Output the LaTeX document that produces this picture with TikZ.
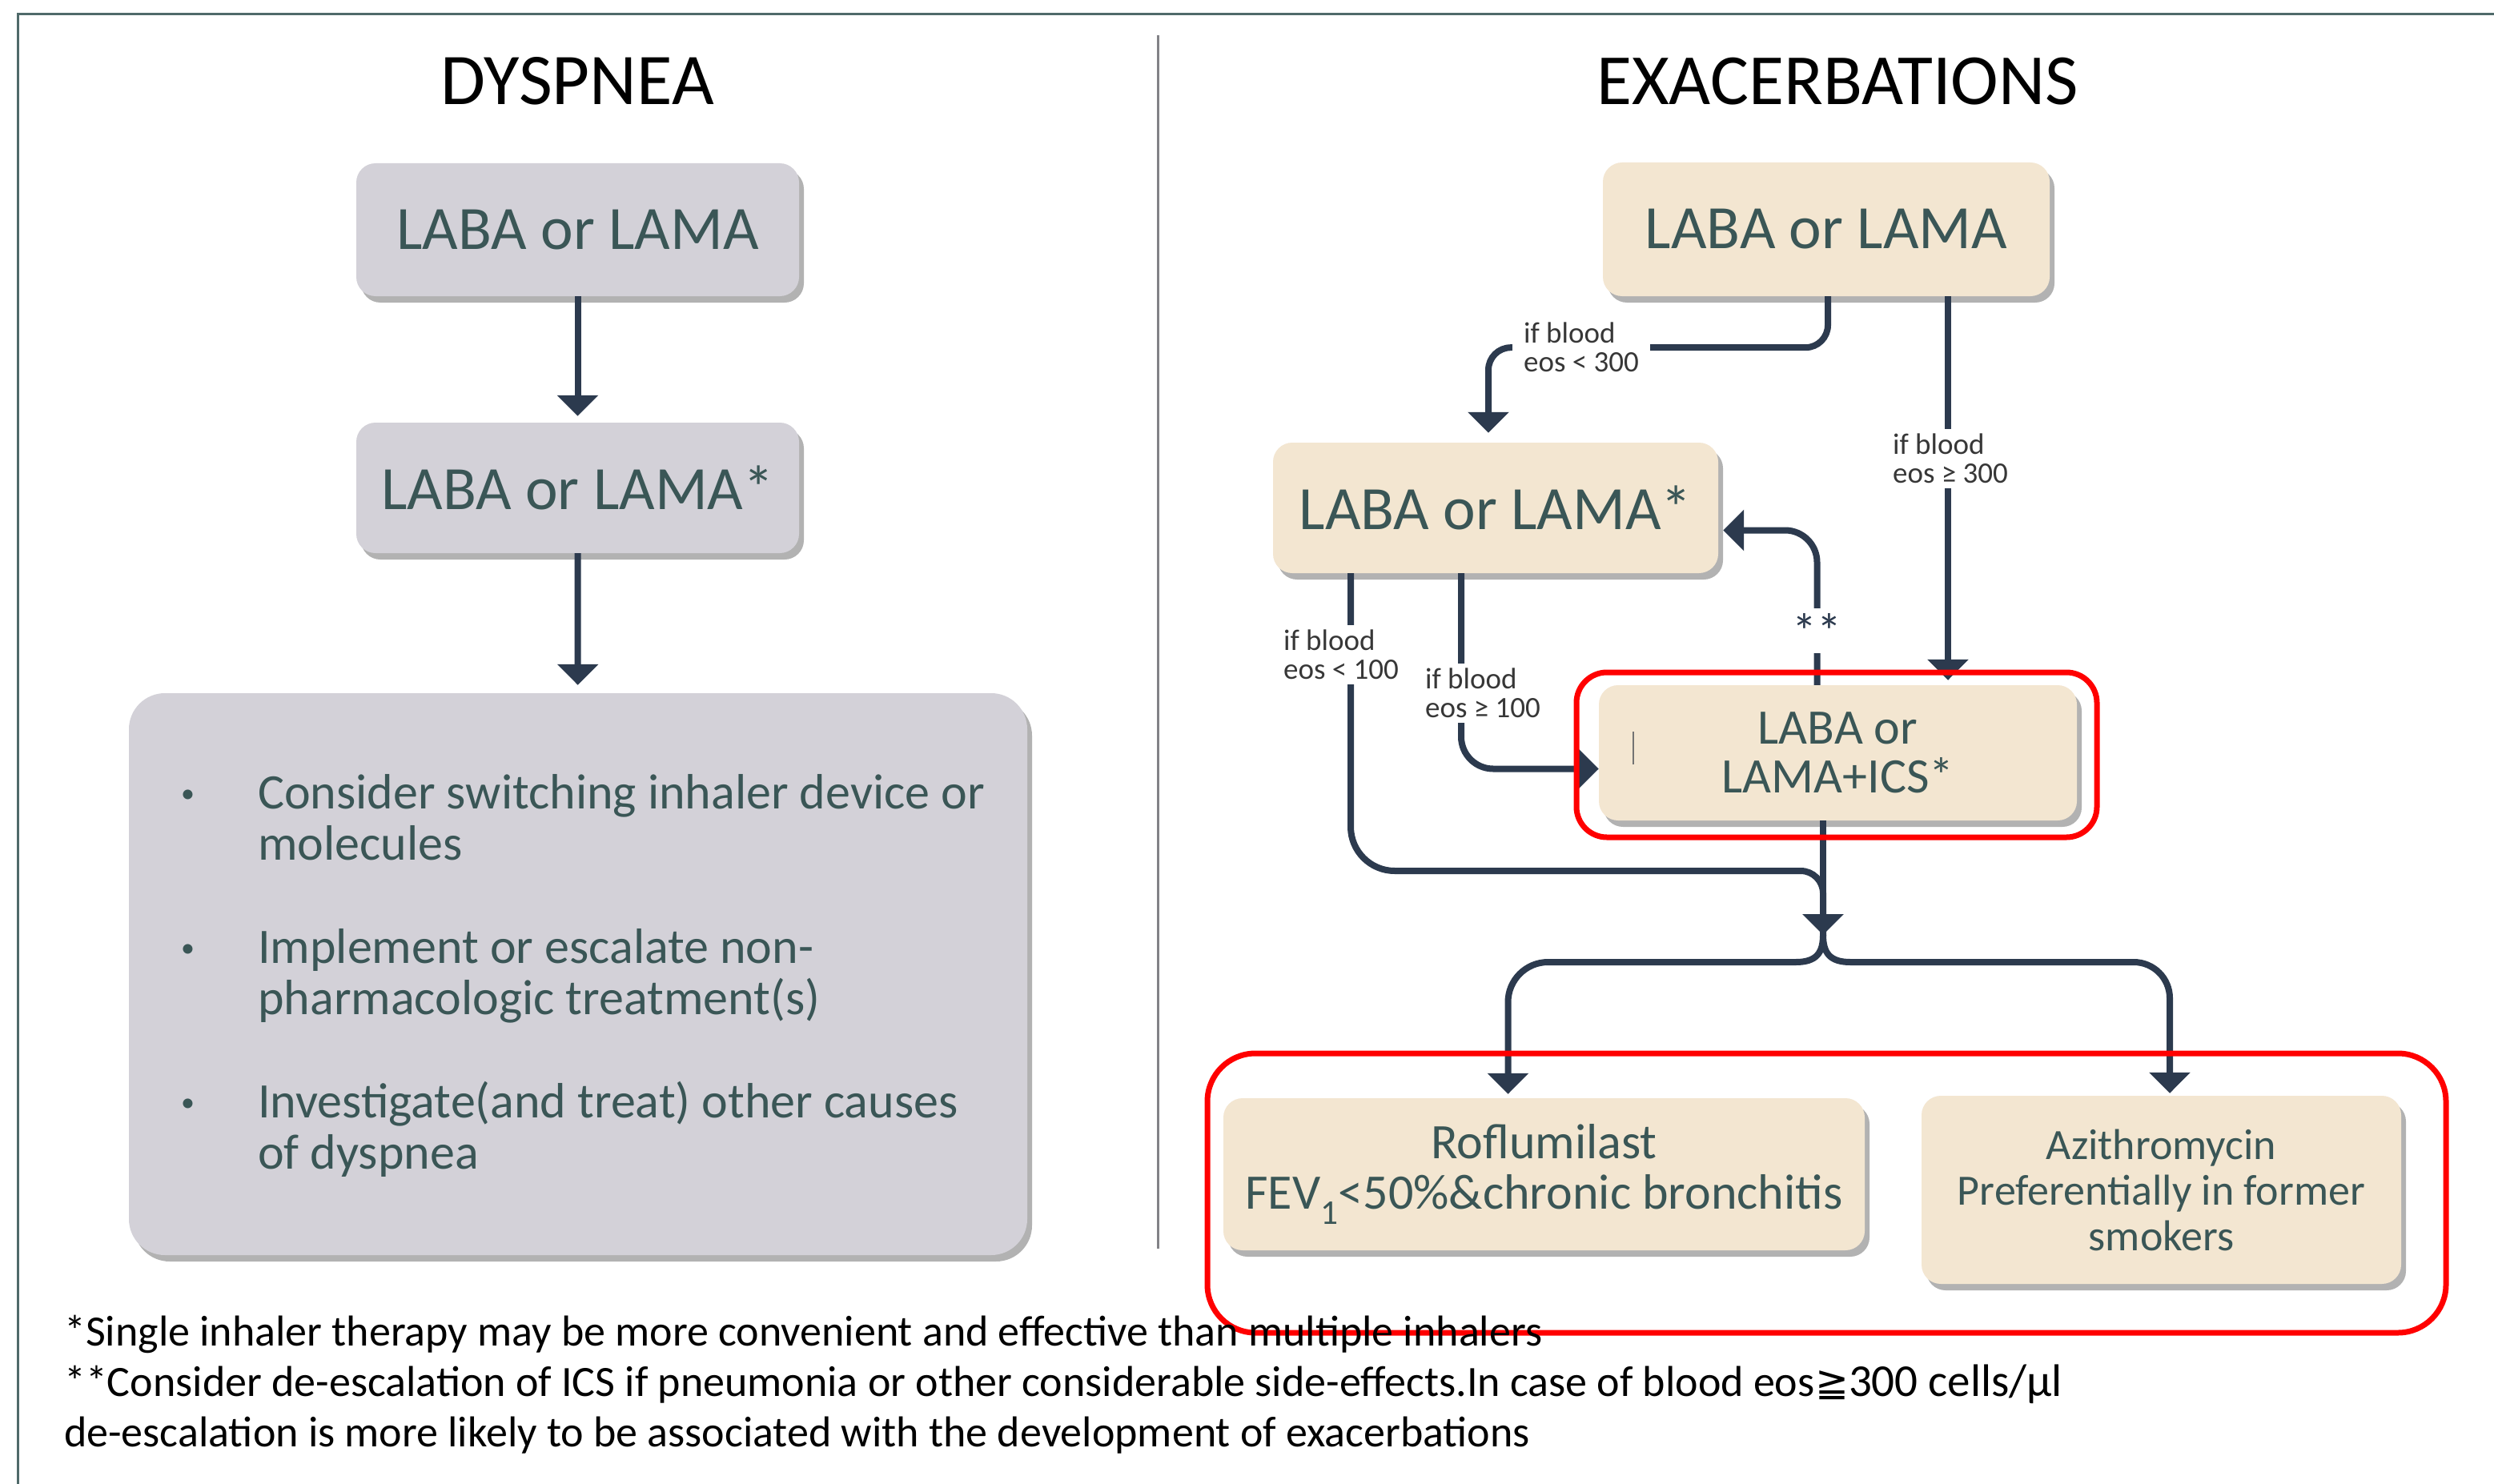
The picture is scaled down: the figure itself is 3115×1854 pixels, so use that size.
\documentclass[tikz,border=0pt]{standalone}
\usepackage{fontspec}
\setmainfont{Carlito}
\newfontfamily\djv{DejaVu Sans}
\usetikzlibrary{arrows.meta,shadows,calc}
\definecolor{boxgray}{RGB}{211,209,216}
\definecolor{boxbeige}{RGB}{243,230,209}
\definecolor{txt}{RGB}{58,86,86}
\definecolor{linec}{RGB}{44,58,78}
\definecolor{framec}{RGB}{80,106,106}
\definecolor{lblc}{RGB}{55,55,55}
\definecolor{divc}{RGB}{130,130,135}
\tikzset{
  shad/.style={drop shadow={shadow xshift=6pt, shadow yshift=-8pt, fill=black, opacity=0.3}},
  graybox/.style={fill=boxgray, rounded corners=24pt, text=txt, inner sep=0pt, align=center, shad},
  beigebox/.style={fill=boxbeige, rounded corners=24pt, text=txt, inner sep=0pt, align=center, shad},
  conn/.style={draw=linec, line width=8pt, -{Triangle[width=50pt,length=26pt]}},
  plainline/.style={draw=linec, line width=8pt},
  lbl/.style={fill=white, text=lblc, align=left, inner xsep=14pt, inner ysep=6pt, font=\fontsize{37}{36}\selectfont},
  redbox/.style={draw=red, line width=7pt},
  bigtxt/.style={font=\fontsize{77}{90}\selectfont},
  foot/.style={anchor=base west, inner sep=0pt, font=\fontsize{54}{60}\selectfont},
}
\newcommand{\smallbullet}{\makebox[90pt][l]{\fontsize{34}{34}\selectfont\raisebox{8pt}{•}}}
\begin{document}
\begin{tikzpicture}[x=1pt,y=-1pt]
\useasboundingbox (0,0) rectangle (3115,1854);
\fill[white] (0,0) rectangle (3115,1854);
% frame and divider
\draw[framec, line width=3pt] (22,1854) -- (22,18) -- (3115,18);
\draw[divc, line width=3pt] (1446,44) -- (1446,1560);
% titles
\node[anchor=base, font=\fontsize{91}{100}\selectfont] (t1) at (721,131) {DYSPNEA};
\node[anchor=base, font=\fontsize{90}{100}\selectfont] (t2) at (2295,131) {EXACERBATIONS};
% left column
\node[graybox, bigtxt, minimum width=553pt, minimum height=166pt] (L1) at (721.5,287) {LABA or LAMA};
\node[graybox, bigtxt, minimum width=553pt, minimum height=163pt] (L2) at (721.5,609.5) {LABA or LAMA*};
\node[graybox, rounded corners=45pt, minimum width=1122pt, minimum height=702pt] (L3) at (722,1217) {};
\node[anchor=base west, text=txt, inner sep=0pt] (L3t) at (226,1010) {\begin{minipage}[t]{1040pt}\fontsize{62}{64}\selectfont\setlength{\parindent}{0pt}\setlength{\parskip}{65pt}%
\hangindent=96pt\hangafter=1\smallbullet\hspace*{6pt}Consider switching inhaler device or\\molecules\par
\hangindent=96pt\hangafter=1\smallbullet\hspace*{6pt}Implement or escalate non-\\pharmacologic treatment(s)\par
\hangindent=96pt\hangafter=1\smallbullet\hspace*{6pt}Investigate(and treat) other causes\\of dyspnea\par
\end{minipage}};
\draw[conn, shorten >=8pt] (L1) -- (L2);
\draw[conn, shorten >=10pt] (L2) -- (L3);
% right column boxes
\node[beigebox, bigtxt, minimum width=558pt, minimum height=167pt] (R1) at (2281,286.5) {LABA or LAMA};
\node[beigebox, bigtxt, minimum width=556pt, minimum height=163pt] (R2) at (1868,634.5) {LABA or LAMA*};
\node[beigebox, font=\fontsize{62}{61}\selectfont, minimum width=597pt, minimum height=169pt] (R3) at (2295.5,940.5) {LABA or\\LAMA+ICS*};
\node[beigebox, font=\fontsize{62}{63}\selectfont, minimum width=801pt, minimum height=190pt] (R4) at (1928.5,1467) {Roflumilast\\FEV\textsubscript{1}<50\%\&chronic bronchitis};
\node[beigebox, font=\fontsize{54}{57}\selectfont, minimum width=599pt, minimum height=235pt] (R5) at (2699.5,1486.5) {Azithromycin\\Preferentially in former\\smokers};
\draw[black!55, line width=2.5pt] (2040,914) -- (2040,955);
% coordinates
\coordinate (a1) at ([xshift=2pt]R1.south);
\coordinate (a2) at ([xshift=152pt]R1.south);
\coordinate (b1) at ([xshift=-9pt]R2.north);
\coordinate (d1) at ([xshift=-26pt]R3.north);
\coordinate (e1) at ([yshift=-28pt]R2.east);
\coordinate (f1) at ([xshift=-181pt]R2.south);
\coordinate (g1) at ([xshift=-43pt]R2.south);
\coordinate (g2) at ([yshift=-20pt]R3.west);
\coordinate (m) at ([xshift=-18.5pt]R3.south);
\coordinate (jn) at (2277,1168);
\coordinate (k) at (2277,1088);
\coordinate (h4) at ([xshift=-45pt]R4.north);
\coordinate (h5) at ([xshift=10.5pt]R5.north);
% connectors
\draw[conn, rounded corners=28pt, shorten >=12pt] (a1) -- ++(0,64) -| (b1);
\draw[conn, shorten >=6pt] (a2) -- (a2 |- R3.north);
\draw[conn, rounded corners=40pt, shorten >=6pt] (d1) |- (e1);
\draw[plainline] (f1) [rounded corners=55pt] -- (f1 |- k) [rounded corners=28pt] -- (k) -- (jn);
\draw[conn, rounded corners=40pt] (g1) |- (g2);
\draw[conn] (m) -- (jn);
\draw[conn, shorten >=5pt] (jn) .. controls ([yshift=-22pt]jn) and ([xshift=-8pt,yshift=-34pt]jn) .. ([xshift=-34pt,yshift=-34pt]jn) [rounded corners=50pt] -| (h4);
\draw[conn, shorten >=3pt] (jn) .. controls ([yshift=-22pt]jn) and ([xshift=8pt,yshift=-34pt]jn) .. ([xshift=34pt,yshift=-34pt]jn) [rounded corners=45pt] -| (h5);
% labels
\node[lbl] (l1) at (1975,434) {if blood\\eos < 300};
\node[lbl] (l2) at (2436,573) {if blood\\eos ≥ 300};
\node[lbl, text=linec, font=\fontsize{62}{40}\selectfont, inner xsep=4pt, inner ysep=6pt] (l3) at (2269,788) {**};
\node[lbl] (l4) at (1675,818) {if blood\\eos < 100};
\node[lbl] (l5) at (1852,866) {if blood\\eos ≥ 100};
% red highlight boxes
\draw[redbox, rounded corners=38pt] (1969,840) rectangle (2619,1046);
\draw[redbox, rounded corners=60pt] (1508,1316) rectangle (3055,1665);
% footnotes
\node[foot] (n1) at (80,1681) {*Single inhaler therapy may be more convenient and effective than multiple inhalers};
\node[foot] (n2) at (80,1744) {**Consider de-escalation of ICS if pneumonia or other considerable side-effects.In case of blood eos{\djv\fontsize{50}{60}\selectfont ≧}{\fontsize{57}{70}\selectfont 300 cells/μl}};
\node[foot] (n3) at (80,1807) {de-escalation is more likely to be associated with the development of exacerbations};
\end{tikzpicture}
\end{document}
